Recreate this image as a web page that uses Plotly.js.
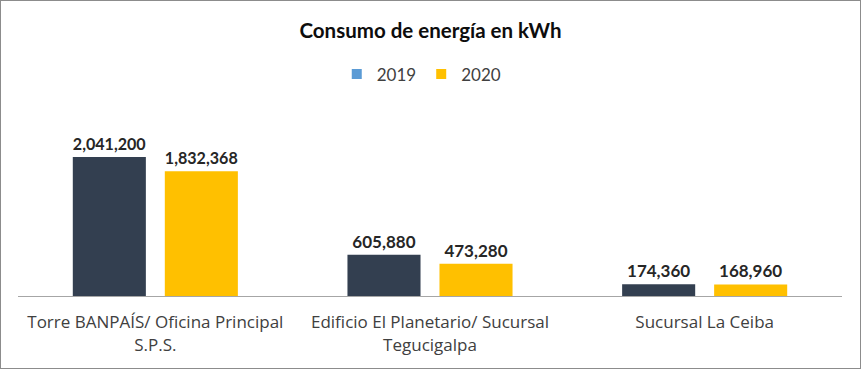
<!DOCTYPE html>
<html>
<head>
<meta charset="utf-8">
<script src="https://cdn.plot.ly/plotly-3.0.1.min.js"></script>
<style>
html,body{margin:0;padding:0;background:#fff;}
#chart{width:861px;height:369px;box-sizing:border-box;border:1px solid #8c8c8c;}
</style>
</head>
<body>
<div id="chart"></div>
<script>
const categories = ["Torre BANPAÍS/ Oficina Principal<br>S.P.S.", "Edificio El Planetario/ Sucursal<br>Tegucigalpa", "Sucursal La Ceiba"];
const values2019 = [2041200, 605880, 174360];
const values2020 = [1832368, 473280, 168960];
const seriesNames = ["2019", "2020"];

const barColors = ["#333F50", "#FFC000"];
const legendColors = ["#5B9BD5", "#FFC000"];
const font = "Lato, 'Open Sans', sans-serif";
const catFont = "'Open Sans', Lato, sans-serif";

const labelFont = {family:font, size:17, color:'#262626', weight:'bold'};

const traces = [
  {type:'bar', x:categories, y:values2019, name:seriesNames[0], showlegend:false,
   marker:{color:barColors[0]}, texttemplate:'%{y:,}', textposition:'outside', cliponaxis:false,
   textfont:labelFont, hoverinfo:'y'},
  {type:'bar', x:categories, y:values2020, name:seriesNames[1], showlegend:false,
   marker:{color:barColors[1]}, texttemplate:'%{y:,}', textposition:'outside', cliponaxis:false,
   textfont:labelFont, hoverinfo:'y'},
  {type:'scatter', mode:'markers', x:[null], y:[null], name:seriesNames[0],
   marker:{symbol:'square', size:10, color:legendColors[0]}},
  {type:'scatter', mode:'markers', x:[null], y:[null], name:seriesNames[1],
   marker:{symbol:'square', size:10, color:legendColors[1]}}
];

const layout = {
  width:859, height:367,
  margin:{l:17, r:18, t:99, b:72},
  paper_bgcolor:'#fff', plot_bgcolor:'#fff',
  font:{family:font, color:'#404040'},
  title:{text:'<b>Consumo de energía en kWh</b>', font:{family:font, size:20.5, color:'#0d0d0d'},
         x:0.5, xanchor:'center', y:0.92, yanchor:'middle'},
  barmode:'group', bargap:0.33, bargroupgap:0.206,
  showlegend:true,
  legend:{orientation:'h', x:0.49, xanchor:'center', y:1.13, yanchor:'middle',
          font:{family:font, size:17, color:'#404040'}, itemwidth:20, traceorder:'normal'},
  xaxis:{showline:true, linecolor:'#a6a6a6', linewidth:1, ticks:'', showgrid:false,
         ticklabelstandoff:11,
         tickfont:{family:catFont, size:17, color:'#404040'}, fixedrange:true},
  yaxis:{range:[0, 2878000], visible:false, showgrid:false, zeroline:false, fixedrange:true}
};

Plotly.newPlot('chart', traces, layout, {displayModeBar:false, staticPlot:true});
</script>
</body>
</html>
